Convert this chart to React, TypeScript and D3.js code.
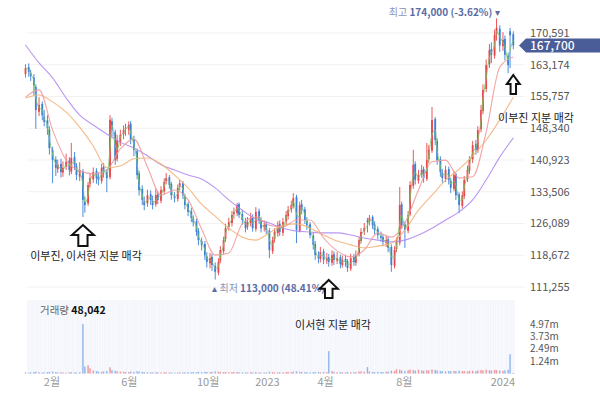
import * as d3 from 'd3';

// 3-trading-day candles, prices in thousand won
const openP = [
  161.0, 162.6, 161.3, 160.2, 158.0, 152.2, 154.0, 151.0, 150.2, 148.0,
  143.2, 141.0, 138.8, 140.0, 138.0, 139.4, 140.8, 138.2, 141.6, 139.6,
  137.0, 138.2, 131.2, 130.8, 135.4, 136.4, 138.4, 136.9, 136.0, 139.3,
  138.0, 136.9, 150.0, 147.4, 141.2, 145.2, 147.0, 148.2, 148.0, 149.4,
  145.8, 143.0, 137.8, 134.2, 131.2, 130.8, 132.9, 131.3, 130.6, 132.9,
  131.4, 133.6, 136.0, 136.9, 135.3, 132.4, 131.8, 134.7, 135.6, 132.5,
  130.6, 129.0, 127.2, 126.6, 124.3, 122.0, 121.3, 118.4, 116.8, 118.3,
  116.2, 114.6, 117.4, 119.6, 122.5, 125.3, 126.2, 128.3, 128.5, 130.6,
  128.3, 126.6, 125.3, 126.2, 127.6, 124.8, 129.0, 126.7, 125.2, 125.9,
  124.4, 119.6, 122.4, 123.8, 126.0, 123.9, 126.6, 127.8, 129.4, 130.2,
  132.3, 124.4, 130.6, 129.4, 126.7, 125.9, 123.2, 121.3, 118.4, 117.8,
  119.6, 117.4, 118.2, 116.9, 118.9, 117.4, 118.2, 116.4, 117.8, 117.3,
  115.5, 118.2, 116.9, 118.9, 122.0, 124.3, 126.8, 126.6, 127.6, 125.9,
  124.8, 123.2, 122.9, 121.6, 122.4, 120.6, 116.2, 120.1, 121.6, 130.6,
  125.9, 124.4, 128.3, 134.9, 140.0, 136.1, 137.6, 138.8, 136.5, 141.1,
  143.1, 150.5, 145.4, 141.1, 137.9, 136.5, 138.8, 136.1, 134.2, 137.6,
  132.9, 130.2, 132.5, 136.5, 138.4, 141.1, 144.6, 143.1, 148.1, 152.4,
  157.5, 163.3, 166.8, 165.3, 170.3, 171.6, 167.5, 169.2, 165.3, 171.0,
  170.3,
];
const highP = [
  163.3, 163.5, 162.0, 161.0, 158.6, 155.6, 154.6, 152.6, 151.4, 148.8,
  144.0, 141.8, 141.0, 141.2, 140.6, 142.4, 141.6, 144.9, 142.8, 140.2,
  140.4, 138.8, 132.4, 135.8, 137.8, 139.2, 139.0, 138.0, 140.0, 140.2,
  138.8, 151.4, 150.8, 148.0, 146.8, 148.0, 149.0, 149.4, 149.9, 150.0,
  146.6, 143.6, 138.4, 135.0, 132.4, 134.0, 133.8, 132.6, 134.2, 133.6,
  134.8, 136.6, 137.9, 137.4, 135.8, 133.4, 135.2, 136.3, 136.0, 133.0,
  131.2, 129.8, 128.0, 127.2, 125.0, 122.8, 122.0, 119.4, 119.2, 119.0,
  117.0, 118.0, 120.8, 123.0, 126.0, 127.4, 129.0, 129.8, 130.9, 131.0,
  129.2, 127.4, 127.6, 128.6, 128.2, 129.9, 129.6, 127.6, 126.8, 126.6,
  125.0, 123.0, 125.0, 126.6, 126.8, 127.4, 129.0, 130.2, 131.4, 133.2,
  132.8, 131.2, 131.6, 130.0, 127.6, 126.4, 124.0, 122.0, 119.6, 120.6,
  120.2, 119.2, 119.0, 119.8, 119.6, 119.4, 118.8, 118.6, 118.8, 117.8,
  119.0, 119.0, 119.8, 123.0, 125.0, 126.2, 127.4, 128.1, 128.0, 126.6,
  125.4, 124.2, 123.6, 123.2, 123.0, 121.2, 120.8, 122.8, 134.6, 131.2,
  126.6, 129.0, 136.0, 143.3, 140.6, 138.6, 139.8, 139.4, 144.9, 144.4,
  153.3, 151.0, 146.0, 141.8, 138.8, 139.6, 139.4, 136.8, 138.4, 138.0,
  133.4, 133.6, 137.2, 139.6, 141.8, 145.4, 145.6, 148.8, 153.8, 158.6,
  164.4, 168.0, 168.4, 171.4, 174.0, 172.4, 170.8, 170.0, 166.0, 171.8,
  171.0,
];
const lowP = [
  160.2, 160.4, 159.4, 156.0, 148.2, 151.2, 150.2, 148.8, 146.8, 142.2,
  135.5, 137.2, 137.9, 136.8, 137.0, 138.6, 137.3, 137.6, 138.6, 136.2,
  136.0, 127.6, 128.6, 130.2, 134.6, 135.6, 135.4, 135.0, 135.4, 136.8,
  133.4, 136.4, 146.4, 139.8, 140.6, 144.2, 145.8, 146.6, 146.8, 144.6,
  141.8, 136.4, 132.6, 130.4, 129.2, 130.0, 130.4, 129.4, 130.0, 130.6,
  130.8, 133.0, 135.2, 134.2, 131.6, 131.0, 131.2, 133.8, 131.8, 129.4,
  127.8, 126.4, 125.4, 123.2, 121.0, 119.8, 117.6, 115.8, 115.6, 115.0,
  113.0, 114.0, 116.8, 119.0, 121.8, 124.4, 125.4, 127.2, 127.8, 127.4,
  125.8, 124.0, 124.6, 125.4, 124.2, 124.2, 126.0, 124.0, 124.2, 123.6,
  118.0, 119.0, 121.6, 123.0, 123.2, 123.2, 125.8, 127.0, 128.6, 129.6,
  121.5, 124.0, 128.2, 126.0, 124.6, 122.6, 120.0, 117.6, 116.8, 117.0,
  116.6, 116.6, 116.0, 116.2, 116.4, 116.6, 115.6, 115.8, 116.0, 114.8,
  115.0, 116.2, 116.2, 118.4, 121.4, 123.4, 124.0, 125.6, 124.8, 123.6,
  122.4, 121.8, 120.8, 120.6, 119.4, 114.8, 115.6, 119.4, 121.0, 124.8,
  120.4, 123.8, 127.8, 134.2, 135.2, 135.4, 136.8, 135.6, 136.0, 140.2,
  142.6, 144.4, 139.8, 137.0, 135.6, 135.8, 135.2, 133.2, 133.6, 131.6,
  128.5, 129.6, 131.8, 135.8, 137.6, 140.2, 142.2, 142.6, 147.4, 151.6,
  156.8, 162.4, 163.6, 164.6, 168.8, 166.2, 166.4, 164.2, 161.2, 162.4,
  166.8,
];
const closeP = [
  162.4, 161.5, 160.5, 158.4, 152.6, 153.8, 151.4, 149.8, 148.4, 143.7,
  140.9, 139.1, 139.8, 138.1, 139.1, 140.5, 138.6, 141.4, 139.8, 137.4,
  138.6, 131.6, 130.4, 135.1, 136.7, 138.1, 136.7, 136.3, 139.1, 138.1,
  136.7, 150.3, 147.9, 140.9, 145.6, 146.8, 147.9, 148.4, 149.1, 145.6,
  143.3, 137.4, 133.9, 131.6, 130.4, 132.7, 131.6, 130.4, 132.7, 131.6,
  133.9, 135.8, 136.7, 135.1, 132.7, 132.0, 134.4, 135.5, 132.7, 130.4,
  128.8, 127.4, 126.4, 124.1, 122.2, 121.1, 118.7, 117.1, 118.0, 116.4,
  114.8, 117.1, 119.9, 122.2, 125.0, 126.4, 128.1, 128.8, 130.4, 128.1,
  126.9, 125.0, 126.4, 127.4, 125.0, 128.8, 126.9, 125.0, 125.7, 124.6,
  119.9, 122.2, 124.1, 125.7, 124.1, 126.4, 128.1, 129.2, 130.4, 132.0,
  124.6, 130.4, 129.2, 126.9, 125.7, 123.4, 121.1, 118.7, 118.0, 119.4,
  117.6, 118.0, 117.1, 118.7, 117.6, 118.0, 116.6, 117.6, 117.1, 115.7,
  118.0, 117.1, 118.7, 122.2, 124.1, 125.0, 126.4, 127.4, 125.7, 124.6,
  123.4, 122.7, 121.8, 122.2, 120.4, 116.4, 119.9, 121.8, 130.4, 125.7,
  124.6, 128.1, 135.1, 139.8, 136.3, 137.4, 138.6, 136.7, 140.9, 143.3,
  150.3, 145.6, 140.9, 138.1, 136.7, 138.6, 136.3, 134.4, 137.4, 132.7,
  130.4, 132.7, 136.3, 138.6, 140.9, 144.4, 143.3, 147.9, 152.6, 157.3,
  163.1, 166.6, 165.5, 170.1, 171.8, 167.7, 169.0, 165.5, 163.1, 170.1,
  167.7,
];
// volume, thousand shares
const volK = [
  120, 90, 110, 150, 180, 130, 100, 120, 140, 160,
  200, 150, 110, 130, 100, 90, 120, 140, 110, 100,
  130, 4972, 700, 820, 520, 300, 240, 200, 180, 210,
  260, 620, 350, 280, 230, 190, 170, 160, 150, 180,
  170, 220, 200, 160, 150, 130, 120, 110, 140, 120,
  110, 130, 120, 100, 110, 90, 100, 120, 110, 130,
  140, 120, 150, 130, 160, 140, 170, 150, 130, 160,
  220, 180, 150, 140, 160, 130, 150, 140, 160, 130,
  120, 110, 100, 130, 120, 150, 110, 100, 90, 110,
  180, 140, 120, 110, 130, 120, 150, 160, 140, 180,
  220, 170, 140, 150, 130, 120, 140, 150, 130, 120,
  160, 140, 2250, 240, 160, 130, 140, 120, 110, 150,
  130, 120, 140, 200, 220, 180, 650, 200, 150, 140,
  160, 150, 140, 170, 200, 280, 260, 420, 380, 300,
  260, 330, 400, 350, 300, 380, 320, 280, 340, 300,
  420, 360, 300, 260, 240, 220, 250, 230, 260, 240,
  280, 220, 240, 200, 260, 280, 240, 300, 350, 320,
  380, 330, 300, 360, 340, 300, 280, 320, 380, 1940,
  48.042,
];

// moving averages read every 5th candle
const MA_STEP = 5;
const ma20 = [155.6, 157.3, 147.9, 140.9, 138.4, 137.7, 138.6, 143.5, 145.8, 139.3, 132.7, 133.9, 131.6, 124.8, 118.7, 119.2, 126.0, 127.6, 125.7, 125.3, 126.9, 126.9, 122.7, 119.7, 118.3, 119.9, 123.9, 122.9, 126.2, 133.9, 140.5, 140.9, 136.7, 137.0, 147.5, 162.6, 165.0];
const ma60 = [155.4, 156.1, 154.5, 152.1, 148.6, 144.2, 139.1, 139.5, 141.2, 141.4, 140.0, 137.4, 134.4, 130.6, 127.8, 125.0, 122.9, 122.2, 123.9, 125.7, 126.0, 125.0, 123.4, 122.0, 121.1, 120.4, 120.8, 121.5, 124.6, 129.2, 132.7, 136.2, 138.8, 141.9, 145.6, 150.3, 155.6];
const ma120 = [167.8, 163.6, 160.1, 155.4, 151.4, 149.1, 147.0, 145.1, 143.7, 141.9, 139.8, 138.6, 137.4, 136.5, 134.4, 131.6, 129.2, 127.1, 126.2, 125.0, 124.3, 124.1, 123.9, 123.9, 123.4, 122.7, 122.2, 121.8, 122.2, 123.4, 125.0, 126.9, 128.8, 131.6, 136.3, 141.6, 146.1];

const priceTicks = [111255, 118672, 126089, 133506, 140923, 148340, 155757, 163174, 170591];
const monthTicks = [new Date(2022, 1, 1), new Date(2022, 5, 1), new Date(2022, 9, 1), new Date(2023, 0, 1), new Date(2023, 3, 1), new Date(2023, 7, 1), new Date(2024, 0, 1)];
const monthLabels = ['2월', '6월', '10월', '2023', '4월', '8월', '2024'];

const notes = [
  { idx: 21, label: '이부진, 이서현 지분 매각' },
  { idx: 112, label: '이서현 지분 매각' },
  { idx: 180, label: '이부진 지분 매각' },
];
const noteLayout = [
  { top: 225, w: 22, h: 21, tx: 86, ty: 256 },
  { top: 280, w: 18, h: 18, tx: 333, ty: 325 },
  { top: 75, w: 13, h: 19, tx: 536, ty: 118 },
];

// every third weekday
const weekdays = d3.timeDay
  .range(new Date(2021, 11, 22), new Date(2024, 0, 18))
  .filter(d => d.getDay() !== 0 && d.getDay() !== 6);
const dates = weekdays.filter((_, i) => i % 3 === 0);

const UP = '#e8464a';
const DOWN = '#3a7fd6';
const FONT = "'Noto Sans CJK KR', 'Noto Sans', sans-serif";

function arrowPath(cx: number, top: number, w: number, h: number) {
  const hh = h * 0.48;
  const sw = w * 0.42;
  return `M${cx},${top} L${cx + w / 2},${top + hh} L${cx + sw / 2},${top + hh} L${cx + sw / 2},${top + h} L${cx - sw / 2},${top + h} L${cx - sw / 2},${top + hh} L${cx - w / 2},${top + hh} Z`;
}

export default function App() {
  const n = closeP.length;
  const days = dates.slice(0, n);
  const won = (v: number) => Math.round(v * 1000);
  const fmt = d3.format(',');

  const x = d3.scaleTime().domain([days[0], days[n - 1]]).range([25.5, 513.3]);
  const y = d3
    .scaleLinear()
    .domain([priceTicks[0], priceTicks[priceTicks.length - 1]])
    .range([287, 33]);
  const maxVol = d3.max(volK)!;
  const yv = d3.scaleLinear().domain([0, maxVol]).range([373.5, 324]);
  const volTicks = [1, 2, 3, 4].map(k => (maxVol * k) / 4);

  const ma5 = closeP.map((c, i) => (i === 0 ? c : (c + closeP[i - 1]) / 2));
  const line5 = d3
    .line<number>()
    .x((_, i) => x(days[i]))
    .y(v => y(won(v)))
    .curve(d3.curveMonotoneX);
  const maLine = d3
    .line<number>()
    .x((_, i) => x(days[Math.min(i * MA_STEP, n - 1)]))
    .y(v => y(won(v)))
    .curve(d3.curveMonotoneX);

  const iMax = d3.maxIndex(highP);
  const iMin = d3.minIndex(lowP);
  const last = closeP[n - 1];
  const pct = (v: number) => ((last / v - 1) * 100).toFixed(2);
  const lastY = y(won(last));

  return (
    <svg
      width={600}
      height={405}
      style={{ position: 'absolute', left: 0, top: 0, fontFamily: FONT }}
    >
      <rect width={600} height={405} fill="#fff" />

      {priceTicks.map(t => (
        <g key={t}>
          <line x1={27} x2={525} y1={y(t)} y2={y(t)} stroke="#f1f1f1" />
          <text x={530} y={y(t)} dy="0.35em" fontSize={11} fill="#555">
            {fmt(t)}
          </text>
        </g>
      ))}

      {/* volume panel */}
      <rect x={27} y={300} width={488} height={74} fill="#f4f6fc" />
      {days.map((d, i) => (
        <line key={i} x1={x(d)} x2={x(d)} y1={300} y2={374} stroke="#fff" strokeOpacity={0.45} />
      ))}
      {volK.map((v, i) => (
        <rect
          key={i}
          x={x(days[i]) - 0.7}
          y={yv(v)}
          width={1.4}
          height={Math.max(0.8, yv(0) - yv(v))}
          fill={closeP[i] >= openP[i] ? UP : DOWN}
          opacity={0.55}
        />
      ))}
      {volTicks.map(v => (
        <text key={v} x={530} y={yv(v)} dy="0.35em" fontSize={10} fill="#555">
          {(v / 1000).toFixed(2)}m
        </text>
      ))}
      <text x={40} y={310} dy="0.35em" fontSize={10.5} fill="#666">
        거래량 <tspan fill="#111" fontWeight="bold">{fmt(Math.round(volK[n - 1] * 1000))}</tspan>
      </text>

      {monthTicks.map((d, i) => (
        <text key={i} x={x(d)} y={382} dy="0.35em" fontSize={11} fill="#999" textAnchor="middle">
          {monthLabels[i]}
        </text>
      ))}

      {/* candles */}
      {days.map((d, i) => {
        const up = closeP[i] >= openP[i];
        const c = up ? UP : DOWN;
        const cx = x(d);
        const top = y(won(Math.max(openP[i], closeP[i])));
        const bot = y(won(Math.min(openP[i], closeP[i])));
        return (
          <g key={i}>
            <line x1={cx} x2={cx} y1={y(won(highP[i]))} y2={y(won(lowP[i]))} stroke={c} strokeWidth={0.9} />
            <rect x={cx - 0.9} y={top} width={1.8} height={Math.max(0.8, bot - top)} fill={c} />
          </g>
        );
      })}

      {/* moving averages */}
      <path d={maLine(ma120)!} fill="none" stroke="#b28cf0" strokeWidth={1.1} opacity={0.9} />
      <path d={maLine(ma60)!} fill="none" stroke="#f4b27a" strokeWidth={1.1} opacity={0.9} />
      <path d={maLine(ma20)!} fill="none" stroke="#f29a9a" strokeWidth={1.1} opacity={0.9} />
      <path d={line5(ma5)!} fill="none" stroke="#7cc66a" strokeWidth={1} opacity={0.85} />

      {/* high / low markers */}
      <text x={x(days[iMax]) + 3} y={12} dy="0.35em" fontSize={10} textAnchor="end" fill="#5a6ca6">
        <tspan fill="#8a95b8">최고 </tspan>
        <tspan fontWeight="bold">{fmt(won(highP[iMax]))} ({pct(highP[iMax])}%)</tspan> ▾
      </text>
      <text x={x(days[iMin]) - 3} y={288} dy="0.35em" fontSize={10} fill="#5a6ca6">
        ▴ <tspan fill="#8a95b8">최저 </tspan>
        <tspan fontWeight="bold">{fmt(won(lowP[iMin]))} ({pct(lowP[iMin])}%)</tspan>
      </text>

      {/* current price tag */}
      <path
        d={`M519,${lastY} L526,${lastY - 7} L600,${lastY - 7} L600,${lastY + 7} L526,${lastY + 7} Z`}
        fill="#4a5d99"
      />
      <text x={530} y={lastY} dy="0.36em" fontSize={12} fill="#fff" fontWeight={500}>
        {fmt(won(last))}
      </text>

      {/* annotations */}
      {notes.map((nt, k) => {
        const L = noteLayout[k];
        return (
          <g key={k}>
            <path
              d={arrowPath(x(days[nt.idx]), L.top, L.w, L.h)}
              fill="#fff"
              stroke="#111"
              strokeWidth={2}
              strokeLinejoin="miter"
            />
            <text x={L.tx} y={L.ty} dy="0.35em" fontSize={11} fill="#222" textAnchor="middle">
              {nt.label}
            </text>
          </g>
        );
      })}
    </svg>
  );
}
